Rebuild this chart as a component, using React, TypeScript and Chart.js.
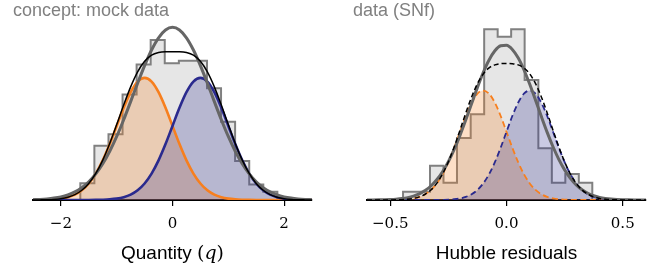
import React, { useEffect, useRef } from 'react';
import { Chart, registerables } from 'chart.js';

Chart.register(...registerables);

// ---------- Left panel: concept / mock data ----------
const qGrid = [-2.5, -2.375, -2.25, -2.125, -2, -1.875, -1.75, -1.625, -1.5, -1.375, -1.25, -1.125, -1, -0.875, -0.75, -0.625, -0.5, -0.375, -0.25, -0.125, 0, 0.125, 0.25, 0.375, 0.5, 0.625, 0.75, 0.875, 1, 1.125, 1.25, 1.375, 1.5, 1.625, 1.75, 1.875, 2, 2.125, 2.25, 2.375, 2.5];
const qOrange = [0.0001, 0.0004, 0.0009, 0.002, 0.0044, 0.0091, 0.0175, 0.0318, 0.054, 0.0863, 0.1295, 0.1827, 0.242, 0.3012, 0.3521, 0.3867, 0.399, 0.3867, 0.3521, 0.3012, 0.242, 0.1827, 0.1295, 0.0863, 0.054, 0.0318, 0.0175, 0.0091, 0.0044, 0.002, 0.0009, 0.0004, 0.0001, 0, 0, 0, 0, 0, 0, 0, 0];
const qBlue = [0, 0, 0, 0, 0, 0, 0, 0, 0.0001, 0.0004, 0.0009, 0.002, 0.0044, 0.0091, 0.0175, 0.0318, 0.054, 0.0863, 0.1295, 0.1827, 0.242, 0.3012, 0.3521, 0.3867, 0.399, 0.3867, 0.3521, 0.3012, 0.242, 0.1827, 0.1295, 0.0863, 0.054, 0.0318, 0.0175, 0.0091, 0.0044, 0.002, 0.0009, 0.0004, 0.0001];
const qSum = [0.0001, 0.0004, 0.0009, 0.002, 0.0044, 0.0091, 0.0175, 0.0318, 0.0541, 0.0867, 0.1304, 0.1847, 0.2464, 0.3103, 0.3696, 0.4185, 0.453, 0.473, 0.4816, 0.4839, 0.484, 0.4839, 0.4816, 0.473, 0.453, 0.4185, 0.3696, 0.3103, 0.2464, 0.1847, 0.1304, 0.0867, 0.0541, 0.0318, 0.0175, 0.0091, 0.0044, 0.002, 0.0009, 0.0004, 0.0001];
const qTotal = [0.0011, 0.002, 0.0036, 0.0062, 0.0103, 0.0168, 0.0264, 0.0402, 0.0594, 0.0852, 0.1182, 0.1591, 0.2075, 0.2623, 0.3214, 0.3817, 0.4392, 0.49, 0.5298, 0.5553, 0.564, 0.5553, 0.5298, 0.49, 0.4392, 0.3817, 0.3214, 0.2623, 0.2075, 0.1591, 0.1182, 0.0852, 0.0594, 0.0402, 0.0264, 0.0168, 0.0103, 0.0062, 0.0036, 0.002, 0.0011];
const qHistEdges = [-1.652, -1.4, -1.147, -0.895, -0.643, -0.391, -0.139, 0.114, 0.366, 0.618, 0.87, 1.122, 1.375, 1.627, 1.879];
const qHistHeights = [0.055, 0.177, 0.215, 0.345, 0.443, 0.523, 0.447, 0.455, 0.455, 0.365, 0.256, 0.127, 0.051, 0.027];
const qTickValues = [-2, 0, 2];
const qTickLabels = ['\u22122', '0', '2'];
const qTitle = 'concept: mock data';

// ---------- Right panel: data (SNf) ----------
const hGrid = [-0.6, -0.575, -0.55, -0.525, -0.5, -0.475, -0.45, -0.425, -0.4, -0.375, -0.35, -0.325, -0.3, -0.275, -0.25, -0.225, -0.2, -0.175, -0.15, -0.125, -0.1, -0.075, -0.05, -0.025, 0, 0.025, 0.05, 0.075, 0.1, 0.125, 0.15, 0.175, 0.2, 0.225, 0.25, 0.275, 0.3, 0.325, 0.35, 0.375, 0.4, 0.425, 0.45, 0.475, 0.5, 0.525, 0.55, 0.575, 0.6];
const hOrange = [0, 0, 0, 0, 0.001, 0.003, 0.006, 0.013, 0.028, 0.055, 0.102, 0.178, 0.294, 0.457, 0.671, 0.928, 1.21, 1.488, 1.724, 1.884, 1.94, 1.884, 1.724, 1.488, 1.21, 0.928, 0.671, 0.457, 0.294, 0.178, 0.102, 0.055, 0.028, 0.013, 0.006, 0.003, 0.001, 0, 0, 0, 0, 0, 0, 0, 0, 0, 0, 0, 0];
const hBlue = [0, 0, 0, 0, 0, 0, 0, 0, 0, 0, 0, 0, 0.001, 0.003, 0.006, 0.013, 0.028, 0.055, 0.102, 0.178, 0.294, 0.457, 0.671, 0.928, 1.21, 1.488, 1.724, 1.884, 1.94, 1.884, 1.724, 1.488, 1.21, 0.928, 0.671, 0.457, 0.294, 0.178, 0.102, 0.055, 0.028, 0.013, 0.006, 0.003, 0.001, 0, 0, 0, 0];
const hSum = [0, 0, 0, 0, 0.001, 0.003, 0.006, 0.013, 0.028, 0.055, 0.102, 0.178, 0.295, 0.46, 0.677, 0.941, 1.238, 1.543, 1.826, 2.062, 2.234, 2.341, 2.395, 2.416, 2.42, 2.416, 2.395, 2.341, 2.234, 2.062, 1.826, 1.543, 1.238, 0.941, 0.677, 0.46, 0.295, 0.178, 0.102, 0.055, 0.028, 0.013, 0.006, 0.003, 0.001, 0, 0, 0, 0];
const hTotal = [0.0006, 0.0012, 0.0023, 0.0044, 0.0081, 0.0145, 0.0251, 0.0422, 0.0688, 0.1087, 0.1667, 0.248, 0.3578, 0.5008, 0.6804, 0.8965, 1.146, 1.421, 1.71, 1.996, 2.26, 2.482, 2.645, 2.735, 2.743, 2.669, 2.52, 2.308, 2.051, 1.768, 1.478, 1.199, 0.944, 0.721, 0.534, 0.384, 0.268, 0.181, 0.119, 0.0756, 0.0467, 0.028, 0.0163, 0.0092, 0.005, 0.0027, 0.0014, 0.0007, 0.0003];
const hHistEdges = [-0.445, -0.387, -0.329, -0.271, -0.213, -0.154, -0.096, -0.038, 0.02, 0.078, 0.137, 0.195, 0.253, 0.311, 0.369];
const hHistHeights = [0.147, 0.147, 0.608, 0.307, 1.1, 1.52, 3.027, 2.895, 3.027, 2.128, 0.917, 0.307, 0.461, 0.307];
const hTickValues = [-0.5, 0, 0.5];
const hTickLabels = ['\u22120.5', '0.0', '0.5'];
const hTitle = 'data (SNf)';

// ---------- styles ----------
const SANS = '"Liberation Sans", Arial, sans-serif';
const SERIF = '"DejaVu Serif", serif';
const ORANGE = '#f77f1e';
const NAVY = '#2a2a8e';
const ORANGE_FILL = 'rgba(247,127,30,0.25)';
const NAVY_FILL = 'rgba(42,42,142,0.25)';
const HIST_FILL = 'rgba(128,128,128,0.2)';
const HIST_LINE = '#808080';
const TOTAL_LINE = '#666666';

type Part = { text: string; font: string };

type Panel = {
  grid: number[];
  orange: number[];
  blue: number[];
  sum: number[];
  total: number[];
  edges: number[];
  heights: number[];
  tickValues: number[];
  tickLabels: string[];
  title: string;
  labelParts: Part[];
  xmin: number;
  xmax: number;
  ymax: number;
  padLeft: number;
  padRight: number;
  titleX: number;
  dashed: boolean;
};

const panels: Panel[] = [
  {
    grid: qGrid, orange: qOrange, blue: qBlue, sum: qSum, total: qTotal,
    edges: qHistEdges, heights: qHistHeights,
    tickValues: qTickValues, tickLabels: qTickLabels, title: qTitle,
    labelParts: [
      { text: 'Quantity ', font: `19px ${SANS}` },
      { text: '(', font: `19px ${SERIF}` },
      { text: 'q', font: `italic 19px ${SERIF}` },
      { text: ')', font: `19px ${SERIF}` },
    ],
    xmin: -2.5, xmax: 2.5, ymax: 0.588,
    padLeft: 33, padRight: 18, titleX: 13, dashed: false,
  },
  {
    grid: hGrid, orange: hOrange, blue: hBlue, sum: hSum, total: hTotal,
    edges: hHistEdges, heights: hHistHeights,
    tickValues: hTickValues, tickLabels: hTickLabels, title: hTitle,
    labelParts: [{ text: 'Hubble residuals', font: `19px ${SANS}` }],
    xmin: -0.6, xmax: 0.6, ymax: 3.19,
    padLeft: 37, padRight: 14, titleX: 23, dashed: true,
  },
];

function makeConfig(p: Panel): any {
  const histPts = [
    { x: p.edges[0], y: 0 },
    ...p.heights.map((h, i) => ({ x: p.edges[i], y: h })),
    { x: p.edges[p.edges.length - 1], y: 0 },
  ];
  const curve = (ys: number[]) => p.grid.map((x, i) => ({ x, y: ys[i] }));
  const base = { pointRadius: 0, cubicInterpolationMode: 'monotone' as const };
  const compDash = p.dashed ? [6, 3.5] : [];
  const compWidth = p.dashed ? 1.8 : 2.6;

  const textPlugin = {
    id: 'panelTexts',
    afterDraw(chart: any) {
      const ctx = chart.ctx as CanvasRenderingContext2D;
      const area = chart.chartArea;
      ctx.save();
      ctx.textBaseline = 'alphabetic';
      ctx.textAlign = 'left';
      ctx.fillStyle = '#808080';
      ctx.font = `18px ${SANS}`;
      ctx.fillText(p.title, p.titleX, 16);
      ctx.fillStyle = '#000';
      const widths = p.labelParts.map((part) => {
        ctx.font = part.font;
        return ctx.measureText(part.text).width;
      });
      const total = widths.reduce((a, b) => a + b, 0);
      let x = (area.left + area.right) / 2 - total / 2;
      p.labelParts.forEach((part, i) => {
        ctx.font = part.font;
        ctx.fillText(part.text, x, 258.5);
        x += widths[i];
      });
      ctx.restore();
    },
  };

  return {
    type: 'line',
    data: {
      datasets: [
        {
          ...base, data: curve(p.sum), borderColor: '#000', borderWidth: 1.5,
          borderDash: p.dashed ? [5, 3] : [], fill: false, order: 1,
        },
        {
          ...base, data: curve(p.total), borderColor: TOTAL_LINE, borderWidth: 3,
          fill: false, order: 2,
        },
        {
          ...base, data: curve(p.blue), borderColor: NAVY, borderWidth: compWidth,
          borderDash: compDash, fill: false, order: 3,
        },
        {
          ...base, data: curve(p.orange), borderColor: ORANGE, borderWidth: compWidth,
          borderDash: compDash, fill: false, order: 4,
        },
        {
          ...base, data: curve(p.blue), borderWidth: 0, borderColor: 'rgba(0,0,0,0)',
          backgroundColor: NAVY_FILL, fill: 'origin', order: 5,
        },
        {
          ...base, data: curve(p.orange), borderWidth: 0, borderColor: 'rgba(0,0,0,0)',
          backgroundColor: ORANGE_FILL, fill: 'origin', order: 6,
        },
        {
          data: histPts, pointRadius: 0, stepped: true, borderColor: HIST_LINE,
          borderWidth: 2, backgroundColor: HIST_FILL, fill: 'origin', order: 7,
        },
      ],
    },
    options: {
      animation: false,
      responsive: false,
      maintainAspectRatio: false,
      layout: { padding: { left: p.padLeft, right: p.padRight, top: 20, bottom: 0 } },
      plugins: { legend: { display: false }, tooltip: { enabled: false }, title: { display: false } },
      scales: {
        x: {
          type: 'linear',
          min: p.xmin,
          max: p.xmax,
          afterBuildTicks: (scale: any) => {
            scale.ticks = p.tickValues.map((v) => ({ value: v }));
          },
          afterFit: (scale: any) => {
            scale.height = 70;
          },
          ticks: {
            autoSkip: false,
            maxRotation: 0,
            padding: 9,
            color: '#000',
            font: { family: SERIF, size: 15 },
            callback: (_v: any, i: number) => p.tickLabels[i],
          },
          grid: { display: true, drawOnChartArea: false, drawTicks: true, tickLength: 6, color: '#000', lineWidth: 1.2 },
          border: { display: true, color: '#000', width: 2 },
        },
        y: { display: false, min: 0, max: p.ymax },
      },
    },
    plugins: [textPlugin],
  };
}

function PanelChart({ panel, left }: { panel: Panel; left: number }) {
  const ref = useRef<HTMLCanvasElement | null>(null);
  useEffect(() => {
    if (!ref.current) return;
    const chart = new Chart(ref.current, makeConfig(panel));
    return () => chart.destroy();
  }, [panel]);
  return (
    <canvas
      ref={ref}
      width={330}
      height={270}
      style={{ position: 'absolute', left, top: 0, width: 330, height: 270, display: 'block' }}
    />
  );
}

export default function App() {
  return (
    <div style={{ position: 'absolute', left: 0, top: 0, width: 660, height: 270, background: '#fff' }}>
      <PanelChart panel={panels[0]} left={0} />
      <PanelChart panel={panels[1]} left={330} />
    </div>
  );
}
